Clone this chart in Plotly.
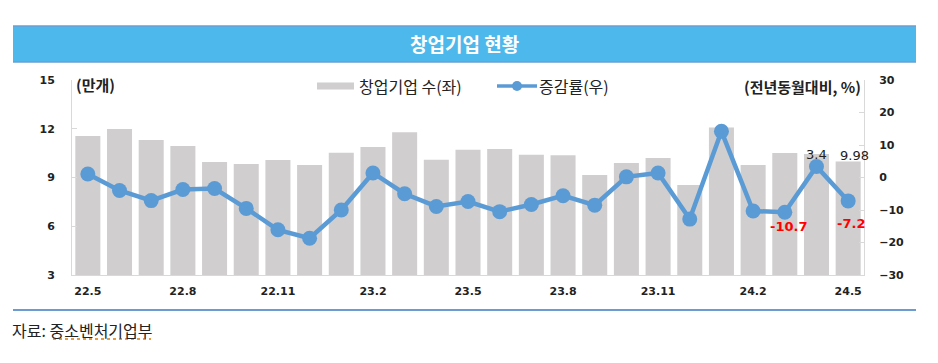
import plotly.graph_objects as go

months = ["22.5", "22.6", "22.7", "22.8", "22.9", "22.10", "22.11", "22.12",
          "23.1", "23.2", "23.3", "23.4", "23.5", "23.6", "23.7", "23.8",
          "23.9", "23.10", "23.11", "23.12", "24.1", "24.2", "24.3", "24.4", "24.5"]
startups = [11.55, 11.98, 11.31, 10.94, 9.95, 9.83, 10.08, 9.77,
            10.53, 10.88, 11.78, 10.10, 10.71, 10.75, 10.40, 10.37,
            9.15, 9.89, 10.20, 8.54, 12.07, 9.77, 10.51, 10.45, 9.98]
growth = [1.1, -4.0, -7.1, -3.7, -3.4, -9.5, -16.1, -18.7,
          -10.0, 1.4, -5.0, -8.9, -7.4, -10.5, -8.3, -5.6,
          -8.5, 0.2, 1.4, -12.8, 14.2, -10.3, -10.7, 3.4, -7.2]
tick_labels = ["22.5", "22.8", "22.11", "23.2", "23.5", "23.8", "23.11", "24.2", "24.5"]
left_ticks = [3, 6, 9, 12, 15]
right_ticks = [-30, -20, -10, 0, 10, 20, 30]

W, H = 938, 363
L, R, T, B = 72, 864, 80, 275


def px(x):
    return (x - L) / (R - L)


def py(y):
    return (B - y) / (B - T)


FONT = "Noto Sans CJK KR, Noto Sans, sans-serif"
NUM = "DejaVu Sans, sans-serif"
BAR_C = "#D0CECE"
LINE_C = "#5B9BD5"

fig = go.Figure()
fig.add_trace(go.Bar(
    x=months, y=startups, name="창업기업 수(좌)",
    marker=dict(color=BAR_C, line=dict(width=0)),
    width=0.79, yaxis="y", showlegend=False,
))
fig.add_trace(go.Scatter(
    x=months, y=growth, name="증감률(우)", mode="lines+markers",
    line=dict(color=LINE_C, width=4.5),
    marker=dict(color=LINE_C, size=15),
    yaxis="y2", showlegend=False,
))

axis_line = "#D9D9D9"
fig.update_layout(
    width=W, height=H,
    margin=dict(l=L, r=W - R, t=T, b=H - B),
    paper_bgcolor="white", plot_bgcolor="white",
    showlegend=False,
    xaxis=dict(
        type="category", tickmode="array", tickvals=tick_labels, ticktext=tick_labels,
        showline=True, linecolor=axis_line, linewidth=1, ticks="", showgrid=False,
        tickfont=dict(family=NUM, size=11, color="#222", weight="bold"),
        ticklabelstandoff=6,
        range=[-0.5, len(months) - 0.5],
    ),
    yaxis=dict(
        range=[3, 15], tickvals=left_ticks, showgrid=False, zeroline=False,
        showline=True, linecolor=axis_line, linewidth=1,
        ticks="inside", ticklen=5, tickcolor=axis_line,
        tickfont=dict(family=NUM, size=11, color="#222", weight="bold"),
        ticklabelstandoff=14,
    ),
    yaxis2=dict(
        range=[-30, 30], tickvals=right_ticks, overlaying="y", side="right",
        showgrid=False, zeroline=False,
        showline=True, linecolor=axis_line, linewidth=1,
        ticks="inside", ticklen=5, tickcolor=axis_line,
        tickfont=dict(family=NUM, size=11, color="#222", weight="bold"),
        ticklabelstandoff=12,
    ),
)

shapes = [
    # title band
    dict(type="rect", xref="paper", yref="paper", x0=px(13), x1=px(916), y0=py(62), y1=py(26),
         fillcolor="#4DB8EC", line=dict(width=0), layer="below"),
    dict(type="line", xref="paper", yref="paper", x0=px(13), x1=px(916), y0=py(26), y1=py(26),
         line=dict(color="#6B9FD3", width=1.5)),
    dict(type="line", xref="paper", yref="paper", x0=px(13), x1=px(916), y0=py(62), y1=py(62),
         line=dict(color="#6B9FD3", width=1.5)),
    # bottom rule
    dict(type="line", xref="paper", yref="paper", x0=px(13), x1=px(916), y0=py(310), y1=py(310),
         line=dict(color="#6C9BD2", width=2)),
    dict(type="line", xref="paper", yref="paper", x0=px(53), x1=px(151), y0=py(339), y1=py(339),
         line=dict(color="#E07B00", width=1.5, dash="dot")),
    # legend swatches
    dict(type="rect", xref="paper", yref="paper", x0=px(317), x1=px(354), y0=py(89.5), y1=py(82.5),
         fillcolor=BAR_C, line=dict(width=0)),
    dict(type="line", xref="paper", yref="paper", x0=px(497), x1=px(537), y0=py(86), y1=py(86),
         line=dict(color=LINE_C, width=3.5)),
    dict(type="circle", xref="paper", yref="paper", x0=px(512), x1=px(522), y0=py(91), y1=py(81),
         fillcolor=LINE_C, line=dict(width=0)),
]
fig.update_layout(shapes=shapes)

i44 = months.index("24.4")
i45 = months.index("24.5")
i43 = months.index("24.3")

ann = [
    dict(text="<b>창업기업 현황</b>", x=px(464), y=py(43), xref="paper", yref="paper",
         showarrow=False, font=dict(family=FONT, size=19, color="white"),
         xanchor="center", yanchor="middle"),
    dict(text="<b>(만개)</b>", x=px(74), y=py(84), xref="paper", yref="paper",
         showarrow=False, font=dict(family=FONT, size=15, color="#222"),
         xanchor="left", yanchor="middle"),
    dict(text="<b>(전년동월대비, %)</b>", x=px(863), y=py(86), xref="paper", yref="paper",
         showarrow=False, font=dict(family=FONT, size=15, color="#222"),
         xanchor="right", yanchor="middle"),
    dict(text="창업기업 수(좌)", x=px(357), y=py(86), xref="paper", yref="paper",
         showarrow=False, font=dict(family=FONT, size=16, color="#222"),
         xanchor="left", yanchor="middle"),
    dict(text="증감률(우)", x=px(537), y=py(86), xref="paper", yref="paper",
         showarrow=False, font=dict(family=FONT, size=16, color="#222"),
         xanchor="left", yanchor="middle"),
    dict(text="자료: 중소벤처기업부", x=px(10), y=py(330), xref="paper", yref="paper",
         showarrow=False, font=dict(family=FONT, size=16, color="#222"),
         xanchor="left", yanchor="middle"),
    # data labels
    dict(text=f"{growth[i44]:.1f}", x=i44, y=growth[i44], xref="x", yref="y2",
         showarrow=False, yshift=2,
         font=dict(family=NUM, size=13, color="#222"), yanchor="bottom"),
    dict(text=f"{startups[i45]:.2f}", x=i45, y=startups[i45], xref="x", yref="y",
         showarrow=False, yshift=-3, xshift=6,
         font=dict(family=NUM, size=13, color="#222"), yanchor="bottom"),
    dict(text=f"{growth[i43]:.1f}", x=i43, y=growth[i43], xref="x", yref="y2",
         showarrow=False, yshift=-5, xshift=4,
         font=dict(family=NUM, size=13, color="#FF0000", weight="bold"), yanchor="top"),
    dict(text=f"{growth[i45]:.1f}", x=i45, y=growth[i45], xref="x", yref="y2",
         showarrow=False, yshift=-13, xshift=3,
         font=dict(family=NUM, size=13, color="#FF0000", weight="bold"), yanchor="top"),
]
fig.update_layout(annotations=ann)

fig.write_html("out.html", config={"displayModeBar": False},
               post_script="document.body.style.margin='0';")
